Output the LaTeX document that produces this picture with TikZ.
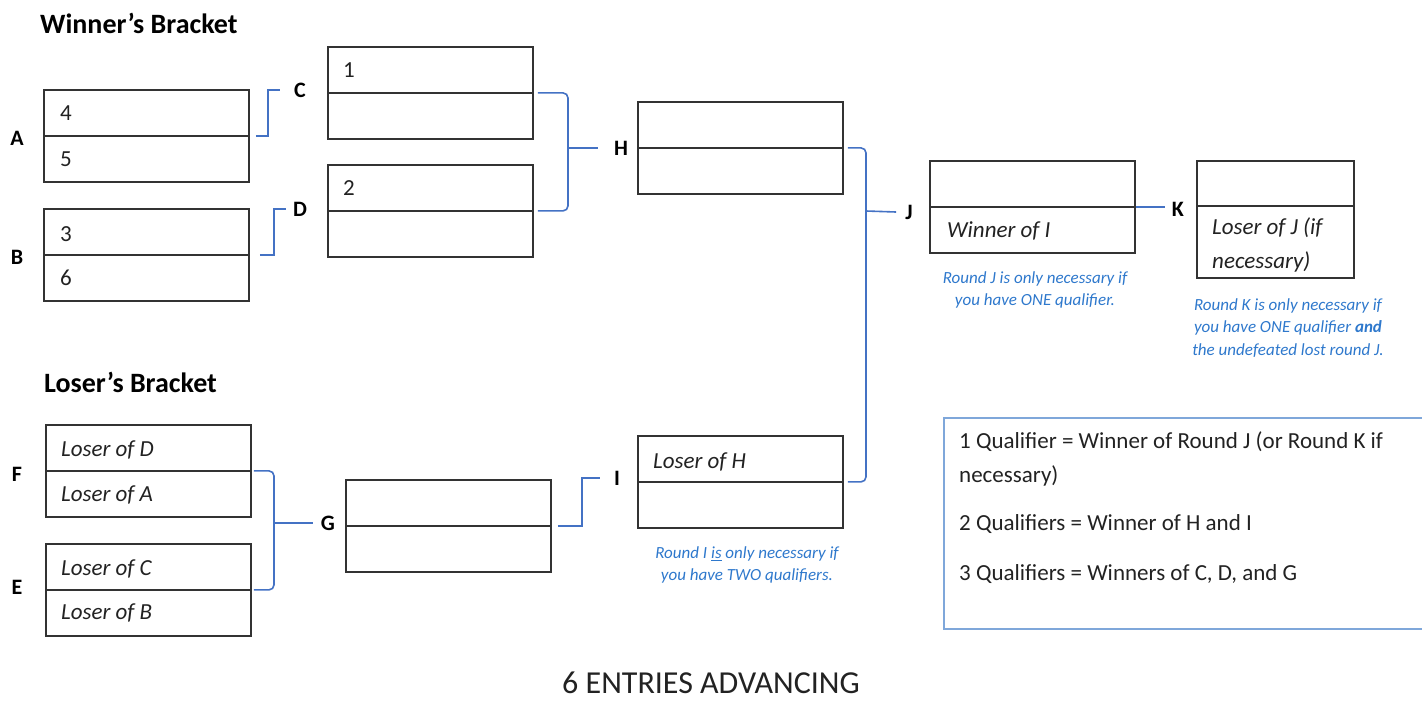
\documentclass[tikz,border=0pt]{standalone}
\usepackage{fontspec}
\setmainfont{Carlito}
\usetikzlibrary{calc}
\definecolor{conncol}{HTML}{4472C4}
\definecolor{notecol}{HTML}{2E78CC}
\definecolor{legcol}{HTML}{7FA7DA}
\definecolor{boxcol}{HTML}{333333}
\definecolor{txtcol}{HTML}{222222}
\begin{document}
\begin{tikzpicture}[x=1pt,y=-1pt,
  box/.style={draw=boxcol,line width=1.8pt,minimum width=205pt,minimum height=92pt,inner sep=0pt,anchor=north west},
  btxt/.style={anchor=west,inner sep=0pt,text height=14.7pt,text depth=0pt,text=txtcol,font=\fontsize{23}{34}\selectfont},
  itxt/.style={btxt,font=\itshape\fontsize{23}{34}\selectfont},
  lbl/.style={inner sep=0pt,font=\bfseries\fontsize{22}{26}\selectfont,text=black},
  title/.style={anchor=west,inner sep=0pt,font=\bfseries\fontsize{28}{32}\selectfont,text=black},
  conn/.style={draw=conncol,line width=1.6pt},
  bracket/.style={conn,rounded corners=5pt},
  note/.style={align=center,inner sep=0pt,text=notecol,font=\itshape\fontsize{17}{22.5}\selectfont},
  divider/.style={draw=boxcol,line width=1.8pt}
]
\useasboundingbox (0,0) rectangle (1422,702);

% titles
\node[title] (wtitle) at (40,23) {Winner’s Bracket};
\node[title] (ltitle) at (44,382) {Loser’s Bracket};

% winner's bracket boxes
\node[box] (A) at (43,89) {};
\node[box] (B) at (43,208) {};
\node[box] (C) at (327,46) {};
\node[box] (D) at (327,164) {};
\node[box] (H) at (637,101) {};
\node[box] (J) at (929,160) {};
\node[box,minimum width=157pt,minimum height=117pt] (K) at (1196,160) {};
% loser's bracket boxes
\node[box] (F) at (45,424) {};
\node[box] (E) at (45,543) {};
\node[box] (G) at (345,479) {};
\node[box] (I) at (637,435) {};

% dividers
\foreach \b in {A,B,C,D,H,J,F,E,G,I}{
  \draw[divider] (\b.west) -- (\b.east);
}
\draw[divider] ($(K.north west)+(0,46)$) -- ($(K.north east)+(0,46)$);

% box texts
\node[btxt] (A1) at ($(A.north west)+(17,24)$) {4};
\node[btxt] (A2) at ($(A.north west)+(17,70)$) {5};
\node[btxt] (B1) at ($(B.north west)+(17,26)$) {3};
\node[btxt] (B2) at ($(B.north west)+(17,70)$) {6};
\node[btxt] (C1) at ($(C.north west)+(16,24)$) {1};
\node[btxt] (D1) at ($(D.north west)+(16,24)$) {2};
\node[itxt] (F1) at ($(F.north west)+(16,25)$) {Loser of D};
\node[itxt] (F2) at ($(F.north west)+(16,70)$) {Loser of A};
\node[itxt] (E1) at ($(E.north west)+(16,25)$) {Loser of C};
\node[itxt] (E2) at ($(E.north west)+(16,69)$) {Loser of B};
\node[itxt] (I1) at ($(I.north west)+(16,26)$) {Loser of H};
\node[itxt] (J2) at ($(J.north west)+(18,70)$) {Winner of I};
\node[align=left,anchor=north west,inner sep=0pt,text=txtcol,font=\itshape\fontsize{23}{34}\selectfont] (K2) at ($(K.north west)+(16,58)$) {Loser of J (if\\necessary)};

% round labels
\node[lbl] (labA) at (17,138) {A};
\node[lbl] (labB) at (17,257) {B};
\node[lbl] (labC) at (300,90) {C};
\node[lbl] (labD) at (300,209) {D};
\node[lbl] (labH) at (621,148) {H};
\node[lbl] (labJ) at (909,212) {J};
\node[lbl] (labK) at (1178,209) {K};
\node[lbl] (labF) at (17,474) {F};
\node[lbl] (labE) at (17,587) {E};
\node[lbl] (labG) at (328,523) {G};
\node[lbl] (labI) at (617,478) {I};

% connectors
\draw[conn] ([xshift=6pt]A.east) -- ++(12,0) |- ([xshift=-14pt]labC.west);
\draw[conn] ([xshift=10pt]B.east) -- ++(14,0) |- ([xshift=-7pt]labD.west);

\coordinate (Hjoin) at (568,148);
\draw[bracket] ([xshift=4pt]C.east) -| (Hjoin) |- ([xshift=4pt]D.east);
\draw[conn] (Hjoin) -- ([xshift=-16pt]labH.west);

\coordinate (Jjoin) at (866,211);
\draw[bracket] ([xshift=4pt]H.east) -| (Jjoin) |- ([xshift=4pt]I.east);
\draw[conn] (Jjoin) -- ([xshift=-9pt]labJ.west);

\coordinate (Kend) at ([xshift=-7pt]labK.west);
\draw[conn] (J.east) -- (Kend |- J.east);

\coordinate (Gjoin) at (274,523);
\draw[bracket] ([xshift=2pt]F.east) -| (Gjoin) |- ([xshift=2pt]E.east);
\draw[conn] (Gjoin) -- ([xshift=-8pt]labG.west);

\draw[conn] ([xshift=6pt]G.east) -- ++(24,0) |- ([xshift=-14pt]labI.west);

% notes
\node[note] (noteJ) at (1035,290) {Round J is only necessary if\\you have ONE qualifier.};
\node[note] (noteK) at (1288,328) {Round K is only necessary if\\you have ONE qualifier \textbf{and}\\the undefeated lost round J.};
\node[note] (noteI) at (747,565) {Round I \underline{is} only necessary if\\you have TWO qualifiers.};

% legend
\node[draw=legcol,line width=1.6pt,anchor=north west,minimum width=500pt,minimum height=211pt,inner sep=0pt] (legend) at (943,417) {};
\node[anchor=north west,align=left,inner sep=0pt,text=txtcol,font=\fontsize{23}{34}\selectfont] (legtext) at ($(legend.north west)+(16,14)$)
 {1 Qualifier = Winner of Round J (or Round K if\\necessary)\\[14pt]2 Qualifiers = Winner of H and I\\[16pt]3 Qualifiers = Winners of C, D, and G};

% footer
\node[inner sep=0pt,text=txtcol,font=\fontsize{32}{36}\selectfont] (footer) at (711,683) {6 ENTRIES ADVANCING};
\end{tikzpicture}
\end{document}
